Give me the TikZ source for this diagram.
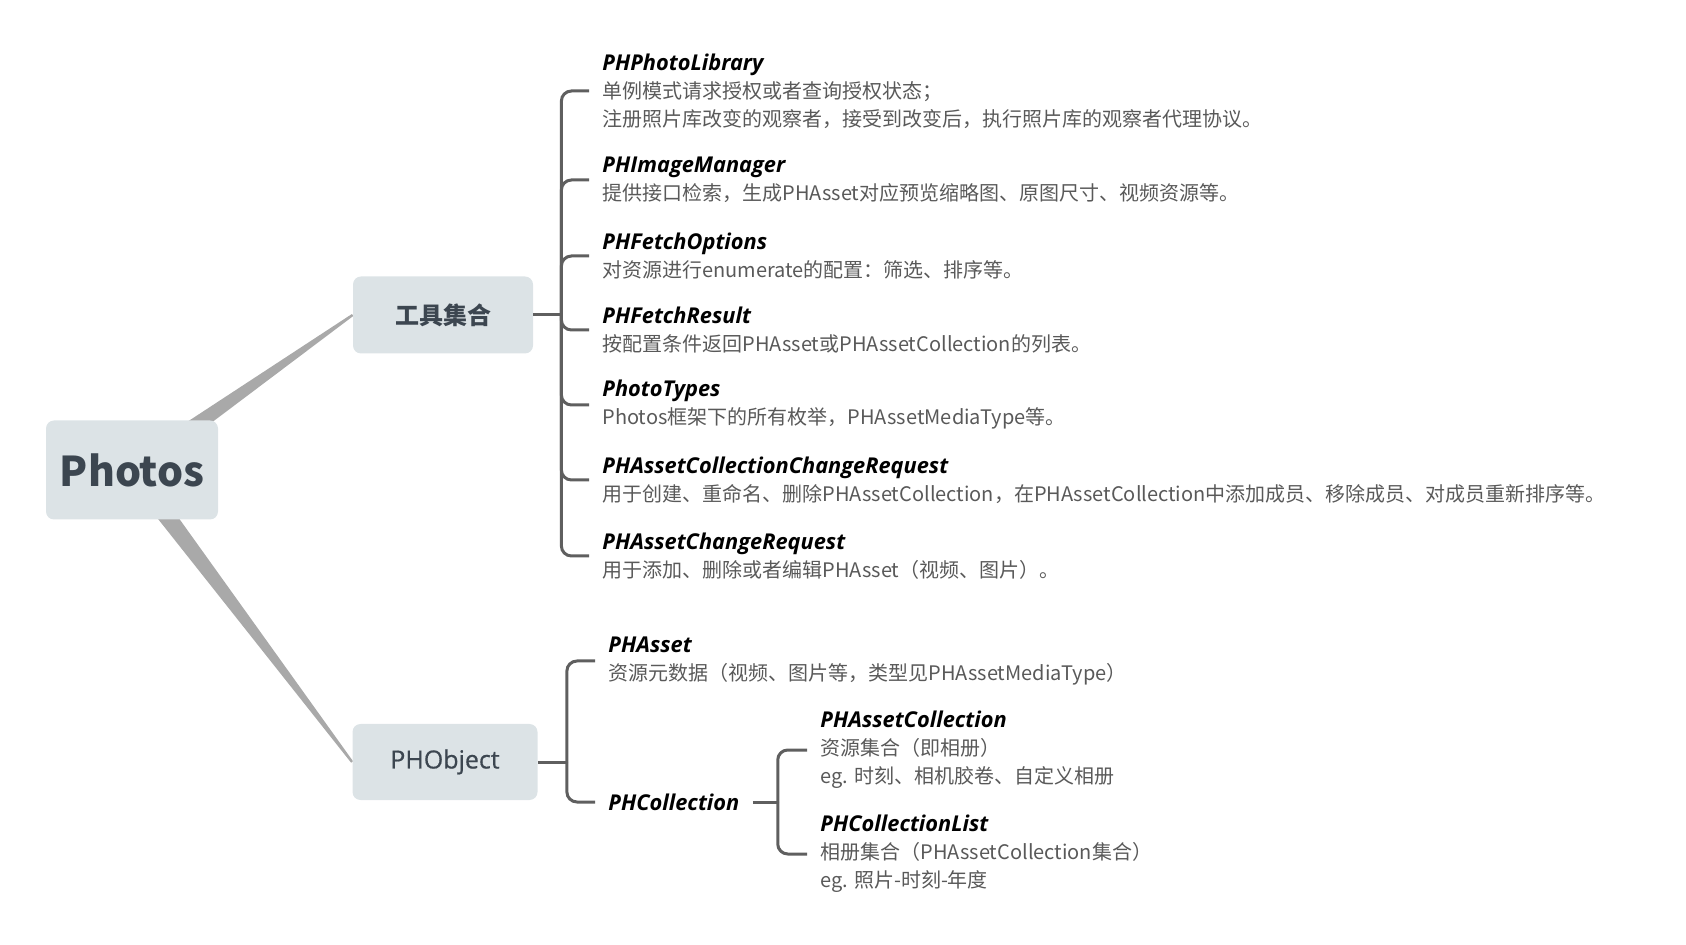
\documentclass[tikz,border=0pt]{standalone}
\usepackage{fontspec}
\setmainfont{Noto Sans CJK SC}
\newfontfamily\titlefont{Open Sans}
\newfontfamily\topicfont{Open Sans}[FakeBold=0.6]
\usepackage{tikz}
\usetikzlibrary{calc,backgrounds}

\definecolor{boxfill}{HTML}{DCE3E6}
\definecolor{boxtext}{HTML}{3C4650}
\definecolor{desc}{HTML}{595959}
\definecolor{brkgray}{HTML}{5F5F5F}
\definecolor{twiggray}{HTML}{A9A9A9}

\newcommand{\ttl}[1]{{\titlefont\bfseries\itshape\fontsize{10.9}{14}\selectfont\color{black}#1}}

\tikzset{
  topic/.style={fill=boxfill, rounded corners=4pt, text=boxtext, align=center, inner sep=0pt},
  item/.style={anchor=west, align=left, inner xsep=6.5pt, inner ysep=0pt, text=desc,
    font=\fontsize{10}{14}\selectfont},
  brk/.style={draw=brkgray, line width=1.5pt, rounded corners=5pt},
  twig/.style={fill=twiggray}
}

\begin{document}
\begin{tikzpicture}[x=0.5pt, y=-0.5pt]
    \useasboundingbox (0,0) rectangle (1686,945);
    % main topics
    \node[topic, minimum width=86pt, minimum height=49.5pt, font=\bfseries\fontsize{20.5}{24}\selectfont] (photos) at (132,470) {Photos};
    \node[topic, minimum width=90pt, minimum height=38.5pt, font=\bfseries\fontsize{12}{14}\selectfont] (tools) at (443,315) {工具集合};
    \node[topic, minimum width=92.5pt, minimum height=38pt, font=\topicfont\fontsize{12.5}{15}\selectfont] (phobj) at (445,762) {PHObject};
    % tapered branches, behind the boxes
    \begin{scope}[on background layer]
    \foreach \c in {tools, phobj}
        \fill[twig] ($(photos.center)!5pt!90:(\c.west)$) -- ($(\c.west)!0.6pt!-90:(photos.center)$)
            -- ($(\c.west)!0.6pt!90:(photos.center)$) -- ($(photos.center)!5pt!-90:(\c.west)$) -- cycle;
    \end{scope}

    % tool classes
    \node[item] (lib) at (589,91) {\ttl{PHPhotoLibrary}\\单例模式请求授权或者查询授权状态；\\注册照片库改变的观察者，接受到改变后，执行照片库的观察者代理协议。};
    \node[item] (img) at (589,180) {\ttl{PHImageManager}\\提供接口检索，生成PHAsset对应预览缩略图、原图尺寸、视频资源等。};
    \node[item] (opt) at (589,256) {\ttl{PHFetchOptions}\\对资源进行enumerate的配置：筛选、排序等。};
    \node[item] (res) at (589,330) {\ttl{PHFetchResult}\\按配置条件返回PHAsset或PHAssetCollection的列表。};
    \node[item] (typ) at (589,405) {\ttl{PhotoTypes}\\Photos框架下的所有枚举，PHAssetMediaType等。};
    \node[item] (ccr) at (589,480) {\ttl{PHAssetCollectionChangeRequest}\\用于创建、重命名、删除PHAssetCollection，在PHAssetCollection中添加成员、移除成员、对成员重新排序等。};
    \node[item] (acr) at (589,556) {\ttl{PHAssetChangeRequest}\\用于添加、删除或者编辑PHAsset（视频、图片）。};

    % object classes
    \node[item] (asset) at (595,661) {\ttl{PHAsset}\\资源元数据（视频、图片等，类型见PHAssetMediaType）};
    \node[item] (coll) at (595,802) {\ttl{PHCollection}};
    \node[item] (acol) at (807,750) {\ttl{PHAssetCollection}\\资源集合（即相册）\\eg. 时刻、相机胶卷、自定义相册};
    \node[item] (clist) at (807,854) {\ttl{PHCollectionList}\\相册集合（PHAssetCollection集合）\\eg. 照片-时刻-年度};

    % brackets
    \coordinate (s1) at ([xshift=14pt]tools.east);
    \coordinate (s2) at ([xshift=14.5pt]phobj.east);
    \coordinate (s3) at ([xshift=12.5pt]coll.east);
    \draw[brk] (tools.east) -- (s1);
    \foreach \n in {lib, img, opt, res, typ, ccr, acr}
        \draw[brk] (s1) |- (\n.west);
    \draw[brk] (phobj.east) -- (s2);
    \foreach \n in {asset, coll}
        \draw[brk] (s2) |- (\n.west);
    \draw[brk] (coll.east) -- (s3);
    \foreach \n in {acol, clist}
        \draw[brk] (s3) |- (\n.west);
\end{tikzpicture}
\end{document}
